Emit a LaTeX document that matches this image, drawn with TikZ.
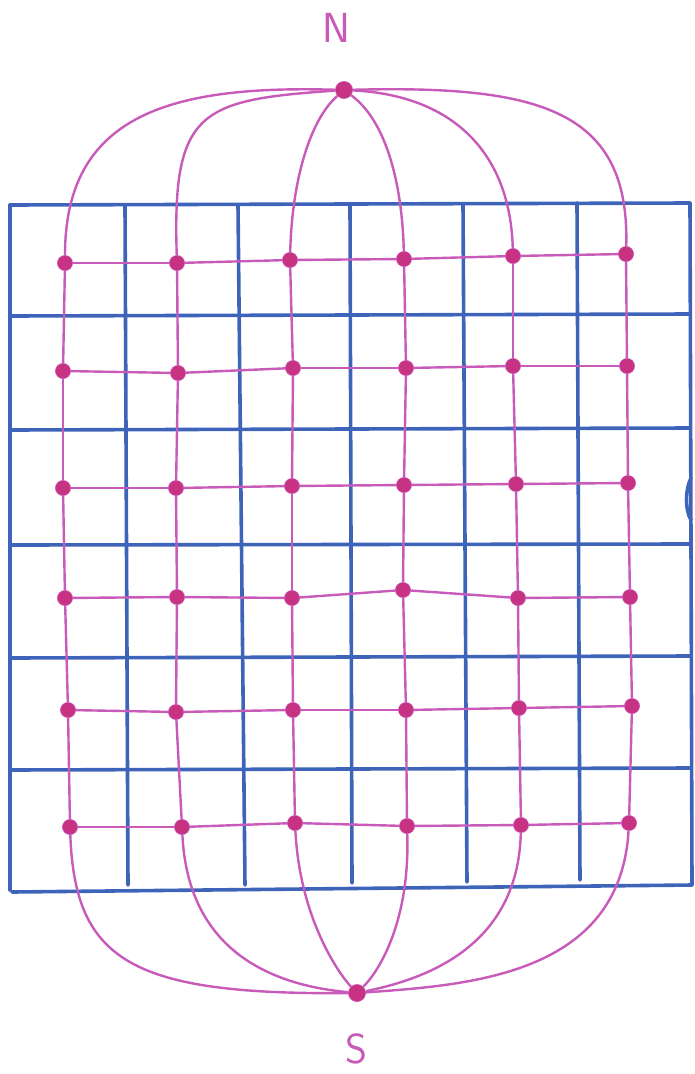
\documentclass[tikz,border=0pt]{standalone}
\definecolor{gridblue}{RGB}{62,100,186}
\definecolor{fieldline}{RGB}{200,90,185}
\definecolor{dotcol}{RGB}{200,50,130}
\begin{document}
\begin{tikzpicture}[x=1pt,y=-1pt,
  gridline/.style={draw=gridblue,line width=3.6pt,line cap=round},
  fline/.style={draw=fieldline,line width=2.4pt},
  pdot/.style={circle,fill=dotcol,draw=fieldline,line width=0.8pt,minimum size=15pt,inner sep=0pt},
  pole/.style={circle,fill=dotcol,draw=fieldline,line width=0.8pt,minimum size=17pt,inner sep=0pt},
  plabel/.style={text=fieldline,font=\fontsize{42}{42}\selectfont\sffamily,inner sep=0pt}]
\useasboundingbox (0,0) rectangle (694,1074);
% blue grid
\draw[gridline] (10,205) -- (690,203);
\draw[gridline] (10,316) -- (690,314);
\draw[gridline] (10,430) -- (690,428);
\draw[gridline] (10,545) -- (690,544);
\draw[gridline] (10,658) -- (690,656);
\draw[gridline] (10,770) -- (690,768);
\draw[gridline] (12,892) -- (692,885);
\draw[gridline] (10,205) -- (10,890);
\draw[gridline] (125,206) -- (128,885);
\draw[gridline] (238,205) -- (245,885);
\draw[gridline] (350,204) -- (352,883);
\draw[gridline] (463,204) -- (467,882);
\draw[gridline] (577,203) -- (580,880);
\draw[gridline] (690,203) -- (692,885);
\draw[gridline] (691,478) .. controls (685,490) and (685,510) .. (691,520);
% poles
\node[pole] (N) at (344,90) {};
\node[pole] (S) at (357,993) {};
\node[plabel] (Nl) at (336,28) {N};
\node[plabel] (Sl) at (356,1049) {S};
% dots
\foreach \r/\a/\b/\c/\d/\e/\f/\ya/\yb/\yc/\yd/\ye/\yf in {
  1/65/177/290/404/513/626/263/263/260/259/256/254,
  2/63/178/293/406/513/627/371/373/368/368/366/366,
  3/63/176/292/404/516/628/488/488/486/485/484/483,
  4/65/177/292/403/518/630/598/597/598/590/598/597,
  5/68/176/293/406/519/632/710/712/710/710/708/706,
  6/70/182/295/407/521/629/827/827/823/826/825/823}{
  \node[pdot] (d\r-1) at (\a,\ya) {};
  \node[pdot] (d\r-2) at (\b,\yb) {};
  \node[pdot] (d\r-3) at (\c,\yc) {};
  \node[pdot] (d\r-4) at (\d,\yd) {};
  \node[pdot] (d\r-5) at (\e,\ye) {};
  \node[pdot] (d\r-6) at (\f,\yf) {};
}
% horizontal field lines
\foreach \r in {1,...,6}{
  \foreach \c [evaluate=\c as \n using int(\c+1)] in {1,...,5}{
    \draw[fline] (d\r-\c) -- (d\r-\n);
  }
}
% vertical field lines within grid
\foreach \c in {1,...,6}{
  \foreach \r [evaluate=\r as \n using int(\r+1)] in {1,...,5}{
    \draw[fline] (d\r-\c) -- (d\n-\c);
  }
}
% arcs from N
\draw[fline] (N) .. controls (170,85) and (65,115) .. (d1-1);
\draw[fline] (N) .. controls (200,100) and (172,110) .. (d1-2);
\draw[fline] (N) .. controls (310,120) and (292,180) .. (d1-3);
\draw[fline] (N) .. controls (385,120) and (402,180) .. (d1-4);
\draw[fline] (N) .. controls (450,95) and (510,150) .. (d1-5);
\draw[fline] (N) .. controls (540,85) and (630,110) .. (d1-6);
% arcs to S
\draw[fline] (d6-1) .. controls (75,960) and (130,995) .. (S);
\draw[fline] (d6-2) .. controls (188,950) and (270,985) .. (S);
\draw[fline] (d6-3) .. controls (300,920) and (340,975) .. (S);
\draw[fline] (d6-4) .. controls (410,920) and (380,970) .. (S);
\draw[fline] (d6-5) .. controls (518,950) and (420,980) .. (S);
\draw[fline] (d6-6) .. controls (620,975) and (470,985) .. (S);
% redraw dots on top
\foreach \r in {1,...,6}{\foreach \c in {1,...,6}{
  \fill[dotcol] (d\r-\c) circle (7pt);
}}
\fill[dotcol] (N) circle (8pt);
\fill[dotcol] (S) circle (8pt);
\end{tikzpicture}
\end{document}
